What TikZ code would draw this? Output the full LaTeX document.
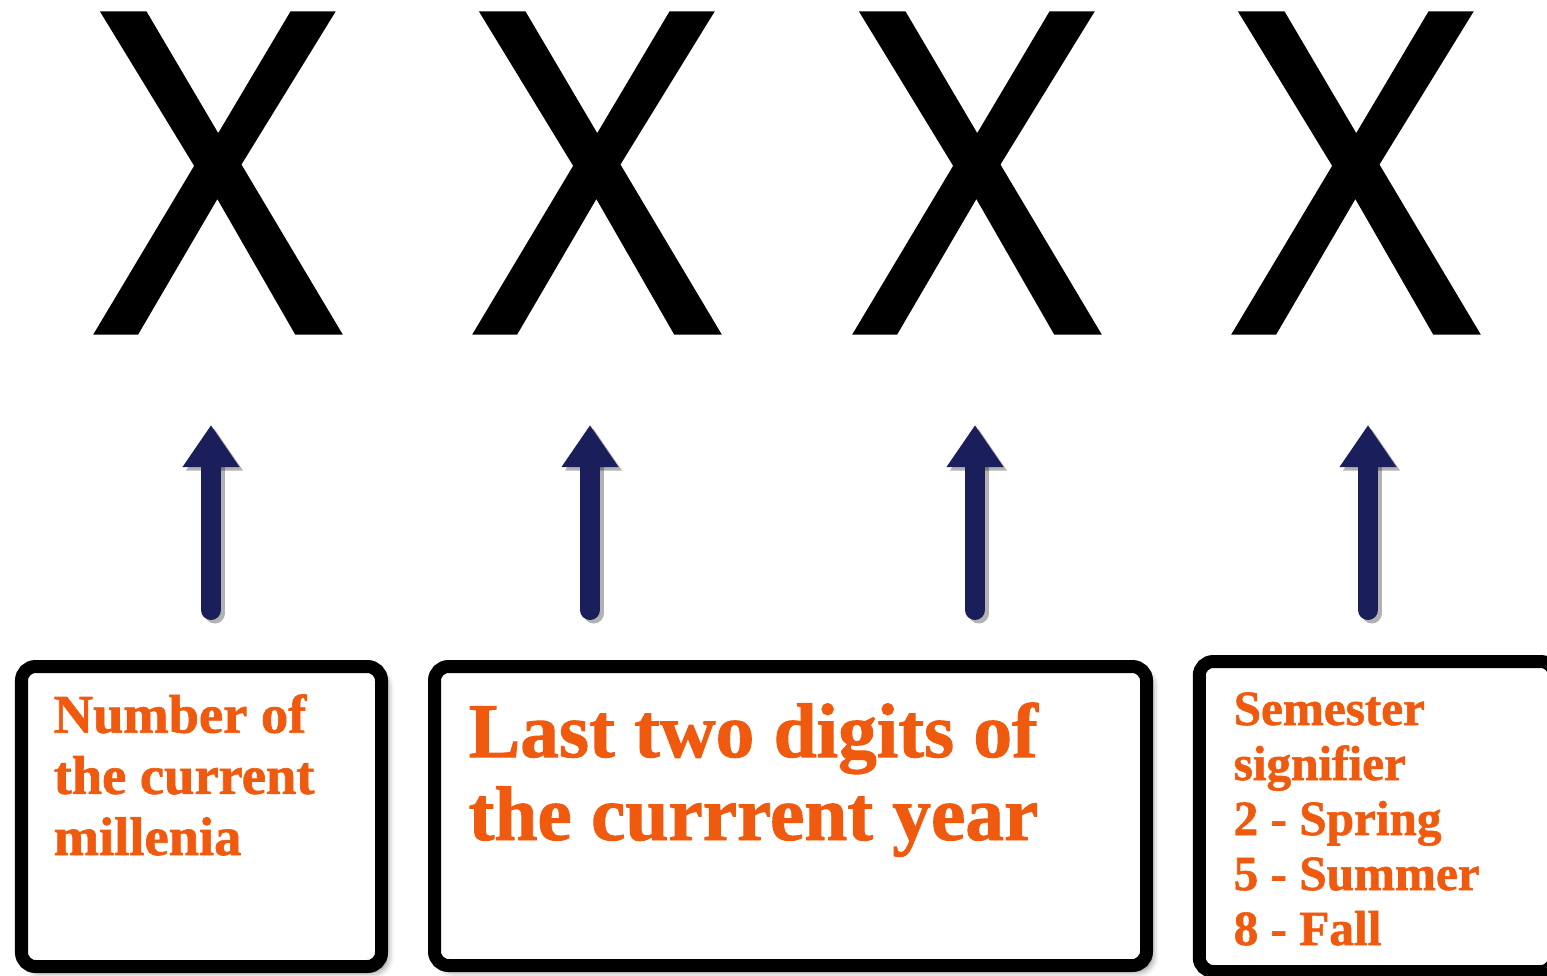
\documentclass[tikz,border=0pt]{standalone}
\usepackage{fontspec}
\usetikzlibrary{arrows.meta,shadows.blur}
\newfontfamily\digitfont[FakeBold=1.6,FakeStretch=0.94]{Open Sans}
\newfontfamily\labelfont[FakeBold=1.2]{Liberation Serif}
\definecolor{CodeOrange}{HTML}{F05A0F}
\definecolor{CodeNavy}{HTML}{1A1F5C}

\begin{document}
\begin{tikzpicture}[>=Latex,line cap=butt,line join=miter,
  digit/.style={font=\digitfont\fontsize{126}{130}\selectfont,inner sep=0pt,anchor=base},
  codebox/.style={draw=black,fill=white,line width=0.13cm,rounded corners=0.14cm,inner sep=0pt,
    blur shadow={shadow xshift=1.5pt,shadow yshift=-1.5pt,shadow blur radius=2pt,shadow opacity=55}},
  pointer/.style={CodeNavy,line width=0.2cm,line cap=round,-{Triangle[width=0.54cm,length=0.42cm]}},
  pointer shadow/.style={pointer,draw=black,opacity=0.3},
  caption/.style={CodeOrange,inner sep=0pt,anchor=base west,align=left}]

% Page: 1 unit = 100 px of the original, y goes down
\useasboundingbox (0,0) rectangle (15.47,-9.75);
\clip (0,0) rectangle (15.47,-9.75);

% ---- THE FOUR DIGIT PLACES ----
\foreach \n/\x in {1/2.18,2/5.97,3/9.77,4/13.56}
  \node[digit] (digit\n) at (\x,-3.31) {X};

% ---- ARROWS ----
\foreach \n/\x in {1/2.11,2/5.90,3/9.75,4/13.68} {
  \coordinate (tail\n) at (\x,-6.10);
  \coordinate (head\n) at (\x,-4.25);
  \draw[pointer shadow] ([shift={(0.035,-0.035)}]tail\n) -- ([shift={(0.035,-0.035)}]head\n);
  \draw[pointer] (tail\n) -- (head\n);
}

% ---- BOXES ----
\node[codebox,minimum width=3.60cm,minimum height=3.00cm] (box1) at (2.015,-8.165) {};
\node[codebox,minimum width=7.12cm,minimum height=2.99cm] (box2) at (7.905,-8.16) {};
\node[codebox,minimum width=3.555cm,minimum height=3.10cm] (box3) at (13.77,-8.165) {};

% Box texts (anchored at the baseline of their last line)
\node[caption,font=\labelfont\bfseries\fontsize{15.5}{17.4}\selectfont] (text1) at (0.53,-8.55)
  {Number of\\the current\\millenia};
\node[caption,font=\labelfont\bfseries\fontsize{22}{23.6}\selectfont] (text2) at (4.68,-8.40)
  {Last two digits of\\the currrent year};
\node[caption,font=\labelfont\bfseries\fontsize{14}{15.65}\selectfont] (text3) at (12.33,-9.45)
  {Semester\\signifier\\2 - Spring\\5 - Summer\\8 - Fall};

\end{tikzpicture}
\end{document}
